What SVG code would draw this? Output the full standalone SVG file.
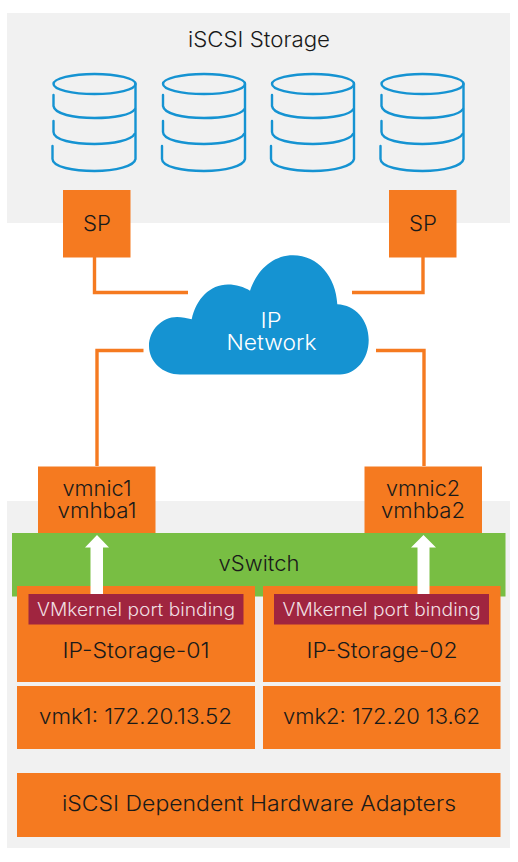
<svg xmlns="http://www.w3.org/2000/svg" width="518" height="862" viewBox="0 0 518 862">
<style>
text{font-family:"Inter","Noto Sans","Liberation Sans",sans-serif;font-size:21px;fill:#1a1a1a;text-anchor:middle;font-weight:300}
.panel{fill:#f1f1f1}
.box{fill:#f57a20}
.band{fill:#a0253f}
.w{fill:#fff}
.lb{fill:#f0dfe2;font-size:18px}
.conn{fill:none;stroke:#f57a20;stroke-width:3.4}
.cyl path,.cyl ellipse{fill:none;stroke:#1593d2;stroke-width:2.4;stroke-linecap:round;stroke-linejoin:round}
</style>
<defs>
<g id="cyl" class="cyl">
<ellipse cx="41" cy="13" rx="41" ry="10"/>
<path d="M82 13V88C81 95 62 100 41 100C20 100 -1 96 -1 88V75"/>
<path d="M81.500 38C78 44 60 47 41 47C20 47 1 43 0 35V24"/>
<path d="M81 63C78 69 60 73 41 73C20 73 0 69 0 61V50"/>
</g>
</defs>
<g id="storage-panel"><rect class="panel" x="7" y="13" width="503" height="210"/><text x="259" y="47" textLength="142" lengthAdjust="spacingAndGlyphs">iSCSI Storage</text></g>
<g id="host-panel"><rect class="panel" x="7" y="501" width="503" height="347"/></g>
<g id="disk-1"><use href="#cyl" x="53.500" y="71"/></g>
<g id="disk-2"><use href="#cyl" x="163" y="71"/></g>
<g id="disk-3"><use href="#cyl" x="272" y="71"/></g>
<g id="disk-4"><use href="#cyl" x="381.500" y="71"/></g>
<g id="connectors">
<path class="conn" d="M94.500 257V292.500H188"/>
<path class="conn" d="M423 257V292.500H352"/>
<path class="conn" d="M143.500 350.500H97V466"/>
<path class="conn" d="M376 350.500H424V466"/>
</g>
<g id="sp-1"><rect class="box" x="63" y="190" width="67.500" height="67.500"/><text x="97" y="231" textLength="28" lengthAdjust="spacingAndGlyphs">SP</text></g>
<g id="sp-2"><rect class="box" x="389" y="190" width="67.500" height="67.500"/><text x="423" y="231" textLength="28" lengthAdjust="spacingAndGlyphs">SP</text></g>
<g id="cloud"><path fill="#1593d2" d="M180 374.500C163 374.500 149 362 149 346C149 330 162 317 177 317C182 317 187 318 191.700 319.300C196 299 210 284.500 228 284.500C236 284.500 244 287 250 290.700C257 270 273 255.300 293 255.300C318 255.300 336 277 337.300 304.300C355 305 368.700 320 368.700 340C368.700 359 356 374.500 340 374.500Z"/><text class="w" x="271" y="328" textLength="21" lengthAdjust="spacingAndGlyphs">IP</text><text class="w" x="271.500" y="350" textLength="90" lengthAdjust="spacingAndGlyphs">Network</text></g>
<g id="vswitch"><rect fill="#78be43" x="12" y="533" width="493.500" height="63.500"/><text x="259" y="571" textLength="81" lengthAdjust="spacingAndGlyphs">vSwitch</text></g>
<g id="vmnic1"><rect class="box" x="38" y="466.500" width="117.500" height="66.500"/><text x="97" y="496" textLength="69" lengthAdjust="spacingAndGlyphs">vmnic1</text><text x="97" y="518" textLength="79" lengthAdjust="spacingAndGlyphs">vmhba1</text></g>
<g id="vmnic2"><rect class="box" x="364.500" y="466.500" width="117.500" height="66.500"/><text x="423" y="496" textLength="74" lengthAdjust="spacingAndGlyphs">vmnic2</text><text x="423" y="518" textLength="84" lengthAdjust="spacingAndGlyphs">vmhba2</text></g>
<g id="ip-storage-01"><rect class="box" x="17" y="586" width="238" height="96"/><text x="136" y="658" textLength="147" lengthAdjust="spacingAndGlyphs">IP-Storage-01</text></g>
<g id="ip-storage-02"><rect class="box" x="263" y="586" width="237.500" height="96"/><text x="382" y="658" textLength="151" lengthAdjust="spacingAndGlyphs">IP-Storage-02</text></g>
<g id="binding-1"><rect class="band" x="28.500" y="594" width="215" height="30.500"/><text class="lb" x="136" y="616" textLength="198" lengthAdjust="spacingAndGlyphs">VMkernel port binding</text></g>
<g id="binding-2"><rect class="band" x="274" y="594" width="215" height="30.500"/><text class="lb" x="381.500" y="616" textLength="198" lengthAdjust="spacingAndGlyphs">VMkernel port binding</text></g>
<g id="vmk1"><rect class="box" x="17" y="686" width="238" height="63"/><text x="135.500" y="724" textLength="193" lengthAdjust="spacingAndGlyphs">vmk1: 172.20.13.52</text></g>
<g id="vmk2"><rect class="box" x="263" y="686" width="237.500" height="63"/><text x="381.500" y="724" textLength="197" lengthAdjust="spacingAndGlyphs">vmk2: 172.20 13.62</text></g>
<g id="adapters"><rect class="box" x="17" y="773" width="483.500" height="64"/><text x="259" y="811" textLength="394" lengthAdjust="spacingAndGlyphs">iSCSI Dependent Hardware Adapters</text></g>
<g id="arrows">
<path class="w" fill="#fff" d="M90.500 594V547.500H85L97 535L109 547.500H103V594Z"/>
<path class="w" fill="#fff" d="M417.500 594V547.500H411L423.500 535L436 547.500H429.500V594Z"/>
</g>
</svg>
